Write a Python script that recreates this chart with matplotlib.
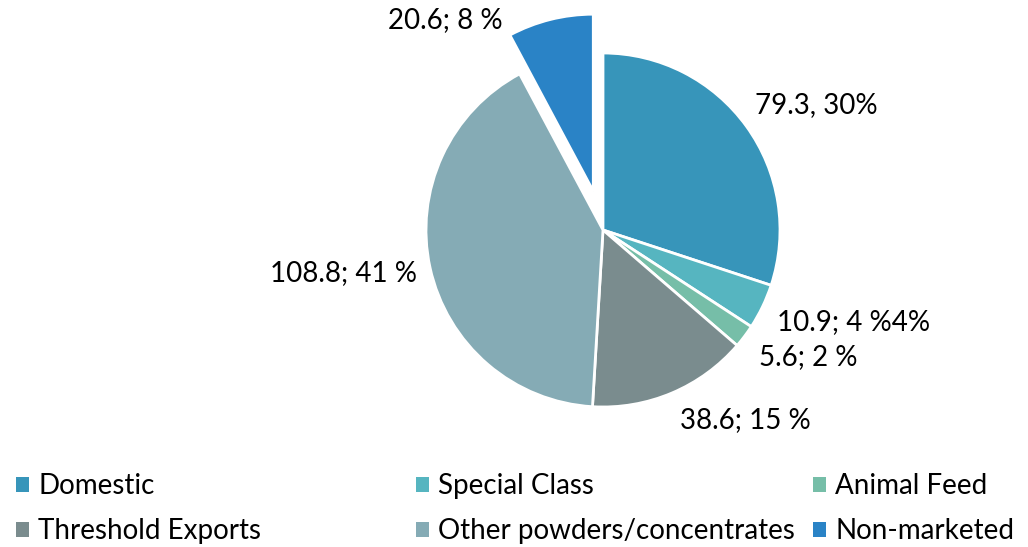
import matplotlib.pyplot as plt
from matplotlib.patches import Patch

plt.rcParams["font.family"] = ["Lato", "DejaVu Sans"]

categories = ["Domestic", "Special Class", "Animal Feed",
              "Threshold Exports", "Other powders/concentrates", "Non-marketed"]
values = [79.3, 10.9, 5.6, 38.6, 108.8, 20.6]
label_texts = ["79.3, 30%", "10.9; 4 %4%", "5.6; 2 %",
               "38.6; 15 %", "108.8; 41 %", "20.6; 8 %"]
colors = ["#3795BA", "#56B5C0", "#76BEA8", "#7A8C8E", "#85ABB5", "#2A83C6"]
# pie explode is in data units here (axes are in pixels)
explode = [0, 0, 0, 0, 0, 40]

# label centres in pixels from the top-left corner
label_pos = [(816, 105), (854, 322), (808, 357), (745, 420), (343, 273), (445, 20)]

W, H = 1028, 547
fig = plt.figure(figsize=(W / 100, H / 100), dpi=100)
ax = fig.add_axes([0, 0, 1, 1])

wedges, _ = ax.pie(values, colors=colors, explode=explode, startangle=90,
                   counterclock=False, center=(603, H - 230), radius=177,
                   wedgeprops=dict(edgecolor="white", linewidth=2))
ax.set_xlim(0, W)
ax.set_ylim(0, H)
ax.set_aspect("equal")
ax.axis("off")

for txt, (x, y) in zip(label_texts, label_pos):
    ax.text(x, H - y, txt, fontsize=20, ha="center", va="center", color="black")

# legend: three columns, two rows
handles = [Patch(facecolor=c, edgecolor="none") for c in colors]
col_x = [16, 416, 813]
for i, x in enumerate(col_x):
    idx = [i, i + 3]
    leg = fig.legend([handles[j] for j in idx], [categories[j] for j in idx],
                     loc="upper left", bbox_to_anchor=(x / W, 1 - 473 / H),
                     frameon=False, fontsize=20, borderpad=0, borderaxespad=0,
                     handlelength=0.45, handleheight=0.45, handletextpad=0.35,
                     labelspacing=0.7)

fig.savefig("out.png", dpi=100)
